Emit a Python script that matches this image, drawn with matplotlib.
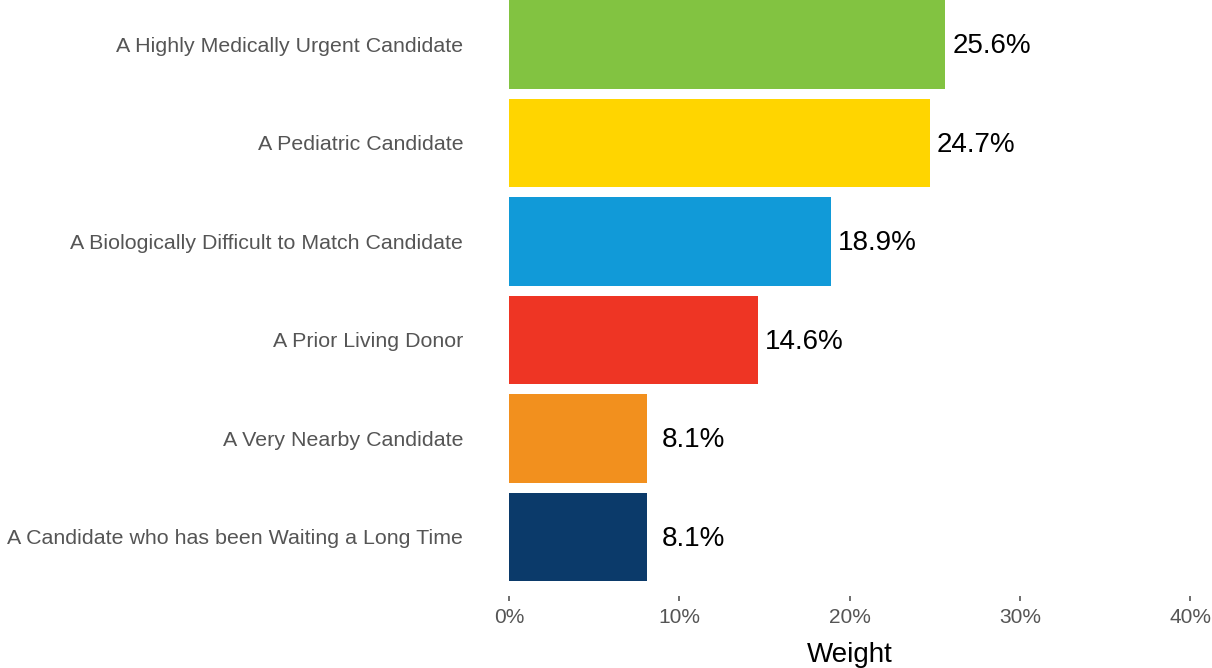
import matplotlib
matplotlib.use("Agg")
import matplotlib.pyplot as plt
import numpy as np

plt.rcParams["font.family"] = ["Liberation Sans", "DejaVu Sans"]

categories = [
    "A Highly Medically Urgent Candidate",
    "A Pediatric Candidate",
    "A Biologically Difficult to Match Candidate",
    "A Prior Living Donor",
    "A Very Nearby Candidate",
    "A Candidate who has been Waiting a Long Time",
]
weights = [25.6, 24.7, 18.9, 14.6, 8.1, 8.1]
labels = ["25.6%", "24.7%", "18.9%", "14.6%", "8.1%", "8.1%"]
colors = ["#82C341", "#FFD500", "#119AD8", "#EE3524", "#F2901E", "#0B3A6A"]
xticks = [0, 10, 20, 30, 40]

fig = plt.figure(figsize=(12.12, 6.68), dpi=100)
ax = fig.add_axes([509 / 1212, (668 - 596) / 668, (1190 - 509) / 1212, 596 / 668])

n = len(categories)
y = np.arange(n)[::-1]
ax.barh(y, weights, height=0.9, color=colors)

# value labels centred a fixed distance past the bar end
for yi, w, lab in zip(y, weights, labels):
    ax.text(w + 2.75, yi - 0.02, lab, ha="center", va="center", fontsize=20, color="black")

ax.set_xlim(0, 40)
ax.set_ylim(-0.6, n - 1 + 0.45)
ax.set_yticks(y)
ax.set_yticklabels(categories, fontsize=15.4, color="#555555")
ax.set_xticks(xticks)
ax.set_xticklabels([f"{t}%" for t in xticks], fontsize=15, color="#555555")
ax.tick_params(axis="y", length=0, pad=33)
ax.tick_params(axis="x", length=3.5, width=1.2, color="#555555", pad=5)
ax.set_xlabel("Weight", fontsize=20, color="black", labelpad=11)
for s in ax.spines.values():
    s.set_visible(False)

fig.savefig("out.png", dpi=100)
